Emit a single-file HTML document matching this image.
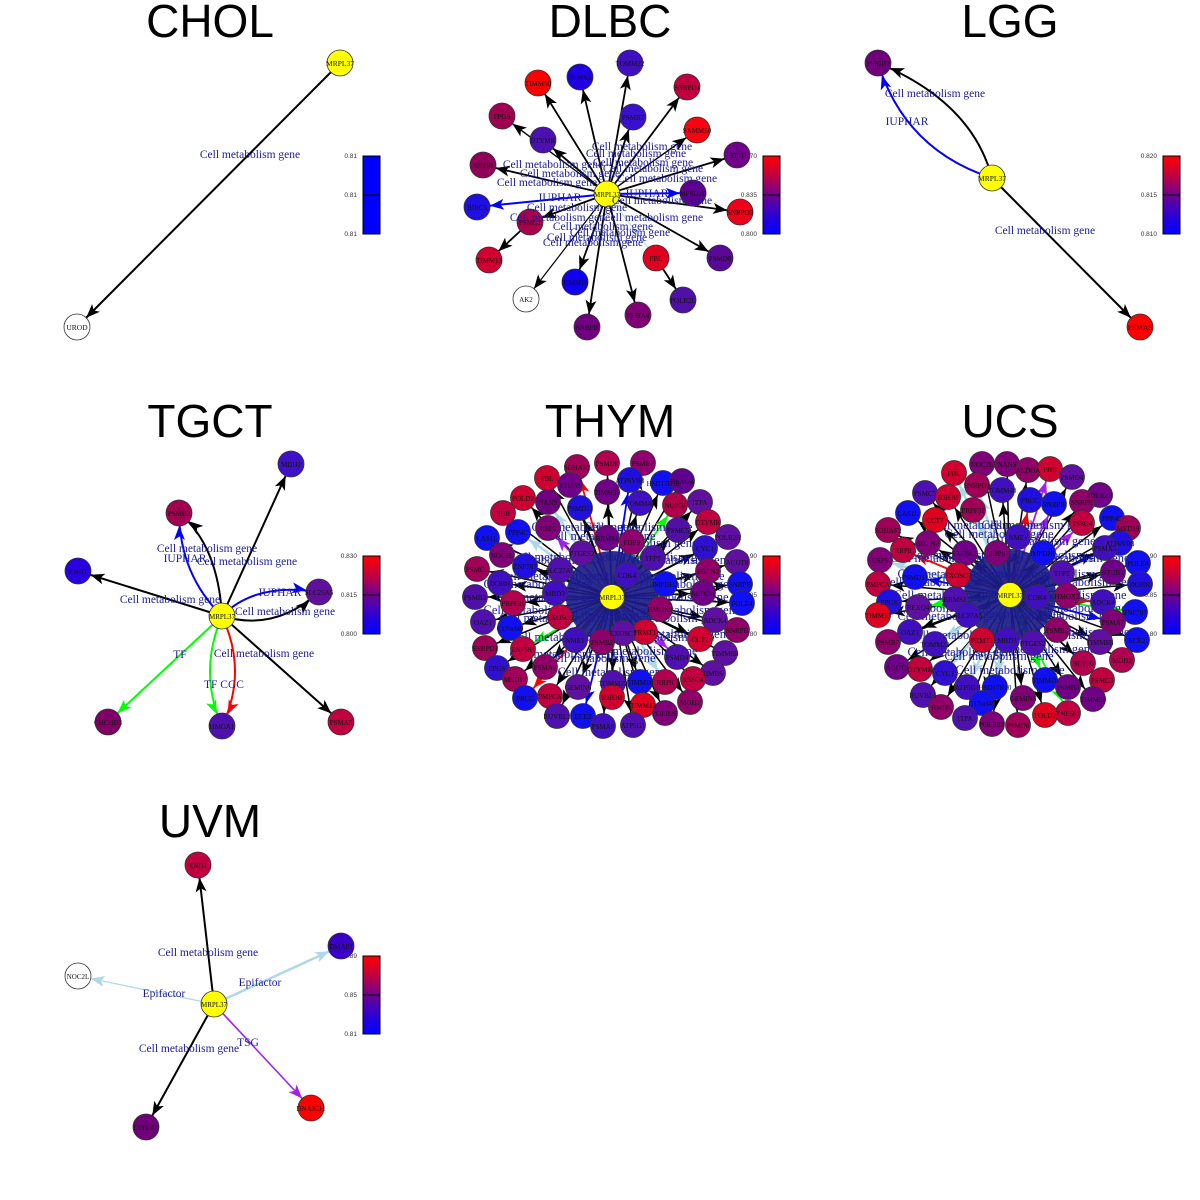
<!DOCTYPE html>
<html><head><meta charset="utf-8">
<style>
html,body{margin:0;padding:0;background:#fff;}
svg{display:block;}
.t{font-family:"Liberation Sans",sans-serif;font-size:46px;text-anchor:middle;fill:#000;}
.n text{font-family:"Liberation Serif",serif;font-size:7px;text-anchor:middle;fill:#111;}
.nb text{font-family:"Liberation Serif",serif;font-size:7.5px;text-anchor:middle;fill:#111;}
.e{font-family:"Liberation Serif",serif;font-size:11.5px;fill:#1c1c96;text-anchor:middle;}
.ed{font-family:"Liberation Serif",serif;font-size:12.5px;fill:#1c1c96;text-anchor:middle;}
.c{font-family:"Liberation Sans",sans-serif;font-size:6.5px;fill:#333;text-anchor:end;}
.cs circle{stroke:#333;stroke-width:0.8;}
</style></head><body>
<svg width="1200" height="1200" viewBox="0 0 1200 1200" xmlns="http://www.w3.org/2000/svg">
<defs>
<marker id="ak" viewBox="0 0 14 11" refX="27" refY="5.5" markerWidth="14" markerHeight="11" markerUnits="userSpaceOnUse" orient="auto" style="overflow:visible"><path d="M0,0L14,5.5L0,11L3.5,5.5Z" fill="#000"/></marker>
<marker id="ab" viewBox="0 0 14 11" refX="27" refY="5.5" markerWidth="14" markerHeight="11" markerUnits="userSpaceOnUse" orient="auto" style="overflow:visible"><path d="M0,0L14,5.5L0,11L3.5,5.5Z" fill="#0000ff"/></marker>
<marker id="ag" viewBox="0 0 14 11" refX="27" refY="5.5" markerWidth="14" markerHeight="11" markerUnits="userSpaceOnUse" orient="auto" style="overflow:visible"><path d="M0,0L14,5.5L0,11L3.5,5.5Z" fill="#00ff00"/></marker>
<marker id="ar" viewBox="0 0 14 11" refX="27" refY="5.5" markerWidth="14" markerHeight="11" markerUnits="userSpaceOnUse" orient="auto" style="overflow:visible"><path d="M0,0L14,5.5L0,11L3.5,5.5Z" fill="#ff0000"/></marker>
<marker id="al" viewBox="0 0 14 11" refX="27" refY="5.5" markerWidth="14" markerHeight="11" markerUnits="userSpaceOnUse" orient="auto" style="overflow:visible"><path d="M0,0L14,5.5L0,11L3.5,5.5Z" fill="#add8e6"/></marker>
<marker id="ap" viewBox="0 0 14 11" refX="27" refY="5.5" markerWidth="14" markerHeight="11" markerUnits="userSpaceOnUse" orient="auto" style="overflow:visible"><path d="M0,0L14,5.5L0,11L3.5,5.5Z" fill="#a020f0"/></marker>
<marker id="aw" viewBox="0 0 14 11" refX="27" refY="5.5" markerWidth="14" markerHeight="11" markerUnits="userSpaceOnUse" orient="auto" style="overflow:visible"><path d="M0,0L14,5.5L0,11L3.5,5.5Z" fill="#a52a2a"/></marker>
<linearGradient id="cg" x1="0" y1="0" x2="0" y2="1">
<stop offset="0" stop-color="#ff0000"/><stop offset="0.25" stop-color="#c00040"/><stop offset="0.5" stop-color="#700090"/><stop offset="0.75" stop-color="#3000d0"/><stop offset="1" stop-color="#0000ff"/>
</linearGradient>
</defs>

<!-- Titles -->
<text class="t" x="210" y="37">CHOL</text>
<text class="t" x="610" y="37">DLBC</text>
<text class="t" x="1010" y="37">LGG</text>
<text class="t" x="210" y="437">TGCT</text>
<text class="t" x="610" y="437">THYM</text>
<text class="t" x="1010" y="437">UCS</text>
<text class="t" x="210" y="837">UVM</text>

<!-- Colorbars -->
<g stroke="#000" stroke-width="1">
<rect x="363" y="156" width="17" height="78" fill="#0000ff"/><line x1="363" y1="195" x2="380" y2="195"/>
<rect x="763" y="156" width="17" height="78" fill="url(#cg)"/><line x1="763" y1="195" x2="780" y2="195"/>
<rect x="1163" y="156" width="17" height="78" fill="url(#cg)"/><line x1="1163" y1="195" x2="1180" y2="195"/>
<rect x="363" y="556" width="17" height="78" fill="url(#cg)"/><line x1="363" y1="595" x2="380" y2="595"/>
<rect x="763" y="556" width="17" height="78" fill="url(#cg)"/><line x1="763" y1="595" x2="780" y2="595"/>
<rect x="1163" y="556" width="17" height="78" fill="url(#cg)"/><line x1="1163" y1="595" x2="1180" y2="595"/>
<rect x="363" y="956" width="17" height="78" fill="url(#cg)"/><line x1="363" y1="995" x2="380" y2="995"/>
</g>
<g class="c">
<text x="357" y="158">0.81</text><text x="357" y="197">0.81</text><text x="357" y="236">0.81</text>
<text x="757" y="158">0.870</text><text x="757" y="197">0.835</text><text x="757" y="236">0.800</text>
<text x="1157" y="158">0.820</text><text x="1157" y="197">0.815</text><text x="1157" y="236">0.810</text>
<text x="357" y="558">0.830</text><text x="357" y="597">0.815</text><text x="357" y="636">0.800</text>
<text x="757" y="558">0.90</text><text x="757" y="597">0.85</text><text x="757" y="636">0.80</text>
<text x="1157" y="558">0.90</text><text x="1157" y="597">0.85</text><text x="1157" y="636">0.80</text>
<text x="357" y="958">0.89</text><text x="357" y="997">0.85</text><text x="357" y="1036">0.81</text>
</g>

<!-- ===== CHOL ===== -->
<path d="M340,63L77,327" stroke="#000" stroke-width="2" fill="none" marker-end="url(#ak)"/>
<g class="cs"><circle cx="340" cy="63" r="13" fill="#ffff00"/><circle cx="77" cy="327" r="13" fill="#fff"/></g>
<g class="nb"><text x="340" y="66">MRPL37</text><text x="77" y="330">UROD</text></g>
<text class="e" x="250" y="158">Cell metabolism gene</text>

<!-- ===== DLBC ===== -->
<g fill="none" stroke="#000" stroke-width="1.8" marker-end="url(#ak)">
<path d="M607,194L630,63"/><path d="M607,194L580,77"/><path d="M607,194L538,83"/><path d="M607,194L687,87"/>
<path d="M607,194L633,117"/><path d="M607,194L502,116" stroke-width="1.4"/><path d="M607,194L697,130" stroke-width="1.4"/><path d="M607,194L737,155"/>
<path d="M607,194L543,140"/><path d="M607,194L483,165"/><path d="M607,194L740,212"/><path d="M607,194L530,222"/>
<path d="M530,222L489,260"/><path d="M607,194L720,258"/><path d="M656,258L683,300"/><path d="M607,194L575,282"/>
<path d="M607,194L526,299" stroke-width="1.2"/><path d="M607,194L638,315"/><path d="M607,194L587,327"/>
</g>
<path d="M607,194L477,207" stroke="#0000ff" stroke-width="2" fill="none" marker-end="url(#ab)"/>
<path d="M607,194L693,193" stroke="#0000ff" stroke-width="2" fill="none" marker-end="url(#ab)"/>
<path d="M607,194L656,258" stroke="#add8e6" stroke-width="1" fill="none"/>
<g class="cs">
<circle cx="630" cy="63" r="13" fill="#4010c0"/><circle cx="580" cy="77" r="13" fill="#2000e0"/><circle cx="538" cy="83" r="13" fill="#ff0000"/>
<circle cx="687" cy="87" r="13" fill="#c0003f"/><circle cx="633" cy="117" r="13" fill="#3a10d0"/><circle cx="502" cy="116" r="13" fill="#a00050"/>
<circle cx="697" cy="130" r="13" fill="#ff0010"/><circle cx="737" cy="155" r="13" fill="#70008a"/><circle cx="543" cy="140" r="13" fill="#4a10b0"/>
<circle cx="483" cy="165" r="13" fill="#90005a"/><circle cx="477" cy="207" r="13" fill="#2010e0"/><circle cx="693" cy="193" r="13" fill="#60008f"/>
<circle cx="740" cy="212" r="13" fill="#f00018"/><circle cx="530" cy="222" r="13" fill="#a8004c"/><circle cx="489" cy="260" r="13" fill="#d00030"/>
<circle cx="720" cy="258" r="13" fill="#5a0898"/><circle cx="656" cy="258" r="13" fill="#e00020"/><circle cx="575" cy="282" r="13" fill="#1000f0"/>
<circle cx="683" cy="300" r="13" fill="#5010a8"/><circle cx="526" cy="299" r="13" fill="#fff"/><circle cx="638" cy="315" r="13" fill="#800075"/>
<circle cx="587" cy="327" r="13" fill="#700080"/><circle cx="607" cy="194" r="13" fill="#ffff00"/>
</g>
<g class="n">
<text x="630" y="66">TOMM22</text><text x="580" y="80">PSMA5</text><text x="538" y="86">TIMM50</text><text x="687" y="90">SNRPD1</text>
<text x="633" y="120">PSMB7</text><text x="502" y="119">FPGS</text><text x="697" y="133">SAMM50</text><text x="737" y="158">TPI1</text>
<text x="543" y="143">DTYMK</text><text x="483" y="168">IDH3B</text><text x="477" y="210">BIRC5</text><text x="693" y="196">MFSD2B</text>
<text x="740" y="215">SNRPD3</text><text x="530" y="225">PSMC1</text><text x="489" y="263">TIMM13</text><text x="720" y="261">PSMD8</text>
<text x="656" y="261">FBL</text><text x="575" y="285">TIMM10</text><text x="683" y="303">POLR2L</text><text x="526" y="302">AK2</text>
<text x="638" y="318">PSMA4</text><text x="587" y="330">SNRPB</text><text x="607" y="197">MRPL37</text>
</g>
<g class="e">
<text x="642" y="150">Cell metabolism gene</text><text x="636" y="157">Cell metabolism gene</text><text x="643" y="166">Cell metabolism gene</text>
<text x="553" y="168">Cell metabolism gene</text><text x="653" y="172">Cell metabolism gene</text><text x="570" y="177">Cell metabolism gene</text>
<text x="547" y="186">Cell metabolism gene</text><text x="667" y="182">Cell metabolism gene</text><text x="560" y="201">IUPHAR</text>
<text x="647" y="197">IUPHAR</text><text x="662" y="204">Cell metabolism gene</text><text x="577" y="211">Cell metabolism gene</text>
<text x="560" y="221">Cell metabolism gene</text><text x="653" y="221">Cell metabolism gene</text><text x="603" y="230">Cell metabolism gene</text>
<text x="620" y="236">Cell metabolism gene</text><text x="597" y="241">Cell metabolism gene</text><text x="593" y="246">Cell metabolism gene</text>
</g>

<!-- ===== LGG ===== -->
<path d="M992,178Q972,102 878,63" stroke="#000" stroke-width="2" fill="none" marker-end="url(#ak)"/>
<path d="M992,178Q905,150 878,63" stroke="#0000ff" stroke-width="2" fill="none" marker-end="url(#ab)"/>
<path d="M992,178L1140,327" stroke="#000" stroke-width="2" fill="none" marker-end="url(#ak)"/>
<g class="cs"><circle cx="878" cy="63" r="13" fill="#70007a"/><circle cx="1140" cy="327" r="13" fill="#ff0000"/><circle cx="992" cy="178" r="13" fill="#ffff00"/></g>
<g class="nb"><text x="878" y="66">PSMB2</text><text x="1140" y="330">PSMA5</text><text x="992" y="181">MRPL37</text></g>
<text class="e" x="935" y="97">Cell metabolism gene</text>
<text class="e" x="907" y="125">IUPHAR</text>
<text class="e" x="1045" y="234">Cell metabolism gene</text>

<!-- ===== TGCT ===== -->
<g fill="none" stroke-width="2">
<path d="M222,616L291,464" stroke="#000" marker-end="url(#ak)"/>
<path d="M222,616Q218,545 179,513" stroke="#000" marker-end="url(#ak)"/>
<path d="M222,616Q180,575 179,513" stroke="#0000ff" marker-end="url(#ab)"/>
<path d="M222,616L78,571" stroke="#000" marker-end="url(#ak)"/>
<path d="M222,616Q255,582 319,592" stroke="#0000ff" marker-end="url(#ab)"/>
<path d="M222,616Q275,632 319,592" stroke="#000" marker-end="url(#ak)"/>
<path d="M222,616L108,722" stroke="#00ff00" marker-end="url(#ag)"/>
<path d="M222,616Q198,672 222,726" stroke="#00ff00" marker-end="url(#ag)"/>
<path d="M222,616Q248,672 222,726" stroke="#ff0000" marker-end="url(#ar)"/>
<path d="M222,616L341,722" stroke="#000" marker-end="url(#ak)"/>
</g>
<g class="cs">
<circle cx="291" cy="464" r="13" fill="#4010c8"/><circle cx="179" cy="513" r="13" fill="#a00050"/><circle cx="78" cy="571" r="13" fill="#2a00e0"/>
<circle cx="319" cy="592" r="13" fill="#60109a"/><circle cx="108" cy="722" r="13" fill="#800068"/><circle cx="222" cy="726" r="13" fill="#5010b0"/>
<circle cx="341" cy="722" r="13" fill="#c00040"/><circle cx="222" cy="616" r="13" fill="#ffff00"/>
</g>
<g class="n">
<text x="291" y="467">MDH2</text><text x="179" y="516">PSMB2</text><text x="78" y="574">ENO1</text><text x="319" y="595">SLC25A5</text>
<text x="108" y="725">CHCHD3</text><text x="222" y="729">HMGA1</text><text x="341" y="725">PSMA5</text><text x="222" y="619">MRPL37</text>
</g>
<g class="e">
<text x="207" y="552">Cell metabolism gene</text><text x="185" y="562">IUPHAR</text><text x="247" y="565">Cell metabolism gene</text>
<text x="170" y="603">Cell metabolism gene</text><text x="280" y="596">IUPHAR</text><text x="285" y="615">Cell metabolism gene</text>
<text x="180" y="658">TF</text><text x="264" y="657">Cell metabolism gene</text><text x="224" y="688">TF CGC</text>
</g>

<!-- ===== UVM ===== -->
<path d="M214,1004L198,865" stroke="#000" stroke-width="2" fill="none" marker-end="url(#ak)"/>
<path d="M214,1004L341,946" stroke="#add8e6" stroke-width="2.5" fill="none" marker-end="url(#al)"/>
<path d="M214,1004L78,976" stroke="#add8e6" stroke-width="1.2" fill="none" marker-end="url(#al)"/>
<path d="M214,1004L146,1127" stroke="#000" stroke-width="2" fill="none" marker-end="url(#ak)"/>
<path d="M214,1004L311,1108" stroke="#a020f0" stroke-width="1.6" fill="none" marker-end="url(#ap)"/>
<g class="cs">
<circle cx="198" cy="865" r="13" fill="#c00040"/><circle cx="341" cy="946" r="13" fill="#3a00c8"/><circle cx="78" cy="976" r="13" fill="#fff"/>
<circle cx="146" cy="1127" r="13" fill="#700078"/><circle cx="311" cy="1108" r="13" fill="#ff0000"/><circle cx="214" cy="1004" r="13" fill="#ffff00"/>
</g>
<g class="n">
<text x="198" y="868">ENO1</text><text x="341" y="949">DMAP1</text><text x="78" y="979">NOC2L</text>
<text x="146" y="1130">LYPLA1</text><text x="311" y="1111">DNAJC11</text><text x="214" y="1007">MRPL37</text>
</g>
<g class="e">
<text x="208" y="956">Cell metabolism gene</text><text x="260" y="986">Epifactor</text><text x="164" y="997">Epifactor</text>
<text x="189" y="1052">Cell metabolism gene</text><text x="248" y="1046">TSG</text>
</g>

<!-- ===== THYM ===== -->
<g fill="none" stroke="#000" stroke-width="1.5" marker-end="url(#ak)">
<path d="M612,597L607,463"/><path d="M612,597L643,463"/><path d="M612,597L547,478"/><path d="M612,597L570,485"/>
<path d="M612,597L663,483"/><path d="M612,597L682,481"/><path d="M612,597L607,492"/><path d="M612,597L523,498"/>
<path d="M612,597L640,503"/><path d="M612,597L700,502"/><path d="M612,597L580,508"/><path d="M612,597L503,513"/>
<path d="M612,597L708,522"/><path d="M612,597L678,530"/><path d="M612,597L728,537"/><path d="M612,597L487,538"/>
<path d="M612,597L502,555"/><path d="M612,597L705,548"/><path d="M612,597L737,562"/><path d="M612,597L525,566"/>
<path d="M612,597L708,571"/><path d="M612,597L477,569"/><path d="M612,597L500,583"/><path d="M612,597L740,584"/>
<path d="M612,597L703,593"/><path d="M612,597L475,597"/><path d="M612,597L513,603"/><path d="M612,597L742,603"/>
<path d="M612,597L715,620"/><path d="M612,597L483,622"/><path d="M612,597L510,628"/><path d="M612,597L737,630"/>
<path d="M612,597L700,639"/><path d="M612,597L485,648"/><path d="M612,597L725,653"/><path d="M612,597L545,667"/>
<path d="M612,597L497,668"/><path d="M612,597L713,673"/><path d="M612,597L693,679"/><path d="M612,597L578,687"/>
<path d="M612,597L515,679"/><path d="M612,597L613,683"/><path d="M612,597L640,682"/><path d="M612,597L550,696"/>
<path d="M612,597L612,697"/><path d="M612,597L690,702"/><path d="M612,597L643,705"/><path d="M612,597L665,713"/>
<path d="M612,597L557,716"/><path d="M612,597L603,726"/><path d="M612,597L633,725"/>
</g>
<g fill="none" stroke-width="1.8">
<path d="M612,597L577,467" stroke="#ff0000" marker-end="url(#ar)"/>
<path d="M612,597L630,480" stroke="#0000ff" marker-end="url(#ab)"/>
<path d="M612,597L675,505" stroke="#00ff00" marker-end="url(#ag)"/>
<path d="M612,597L518,532" stroke="#add8e6" stroke-width="2.5" marker-end="url(#al)"/>
<path d="M612,597L548,502" stroke="#add8e6" stroke-width="2.5" marker-end="url(#al)"/>
<path d="M612,597L548,528" stroke="#a020f0" marker-end="url(#ap)"/>
<path d="M612,597L523,649" stroke="#00ff00" marker-end="url(#ag)"/>
<path d="M612,597L525,698" stroke="#ff0000" marker-end="url(#ar)"/>
<path d="M612,597L583,716" stroke="#0000ff" marker-end="url(#ab)"/>
<path d="M612,597L665,682" stroke="#add8e6" stroke-width="2.5" marker-end="url(#al)"/>
<path d="M612,597L677,657" stroke="#a020f0" marker-end="url(#ap)"/>
</g>
<circle cx="612" cy="597" r="46" fill="#1c1c88" opacity="0.92"/>
<g class="ed">
<text x="674" y="601">Cell metabolism gene</text><text x="670" y="622">Cell metabolism gene</text><text x="660" y="641">Cell metabolism gene</text>
<text x="643" y="655">Cell metabolism gene</text><text x="601" y="662">Cell metabolism gene</text><text x="565" y="641">Cell metabolism gene</text>
<text x="554" y="622">Cell metabolism gene</text><text x="550" y="601">Cell metabolism gene</text><text x="554" y="580">Cell metabolism gene</text>
<text x="565" y="561">Cell metabolism gene</text><text x="601" y="540">Cell metabolism gene</text><text x="643" y="547">Cell metabolism gene</text>
<text x="660" y="561">Cell metabolism gene</text><text x="670" y="580">Cell metabolism gene</text><text x="686" y="614">Cell metabolism gene</text>
<text x="677" y="638">Cell metabolism gene</text><text x="612" y="676">Cell metabolism gene</text><text x="564" y="658">Cell metabolism gene</text>
<text x="538" y="614">Cell metabolism gene</text><text x="538" y="588">Cell metabolism gene</text><text x="547" y="564">Cell metabolism gene</text>
<text x="586" y="531">Cell metabolism gene</text><text x="638" y="531">Cell metabolism gene</text><text x="677" y="564">Cell metabolism gene</text>
<text x="686" y="588">Cell metabolism gene</text><text x="612" y="620">Cell metabolism gene</text><text x="612" y="580">Cell metabolism gene</text>
</g>
<g class="cs">
<circle cx="607" cy="463" r="12.5" fill="#b0004f"/><circle cx="643" cy="463" r="12.5" fill="#900070"/><circle cx="577" cy="467" r="12.5" fill="#a00058"/>
<circle cx="547" cy="478" r="12.5" fill="#d00030"/><circle cx="570" cy="485" r="12.5" fill="#700088"/><circle cx="630" cy="480" r="12.5" fill="#2010e0"/>
<circle cx="663" cy="483" r="12.5" fill="#1010f0"/><circle cx="682" cy="481" r="12.5" fill="#600090"/><circle cx="607" cy="492" r="12.5" fill="#700088"/>
<circle cx="523" cy="498" r="12.5" fill="#d00030"/><circle cx="548" cy="502" r="12.5" fill="#70007f"/><circle cx="640" cy="503" r="12.5" fill="#4010c0"/>
<circle cx="675" cy="505" r="12.5" fill="#b00048"/><circle cx="700" cy="502" r="12.5" fill="#6010a0"/><circle cx="580" cy="508" r="12.5" fill="#2010e0"/>
<circle cx="503" cy="513" r="12.5" fill="#c00040"/><circle cx="548" cy="528" r="12.5" fill="#800078"/><circle cx="708" cy="522" r="12.5" fill="#c00040"/>
<circle cx="518" cy="532" r="12.5" fill="#1010f0"/><circle cx="678" cy="530" r="12.5" fill="#5010a8"/><circle cx="728" cy="537" r="12.5" fill="#6010a0"/>
<circle cx="607" cy="538" r="12.5" fill="#700088"/><circle cx="632" cy="542" r="12.5" fill="#900070"/><circle cx="487" cy="538" r="12.5" fill="#1010f0"/>
<circle cx="502" cy="555" r="12.5" fill="#800078"/><circle cx="582" cy="553" r="12.5" fill="#6010a0"/><circle cx="705" cy="548" r="12.5" fill="#3010d0"/>
<circle cx="737" cy="562" r="12.5" fill="#6010a0"/><circle cx="525" cy="566" r="12.5" fill="#2010e0"/><circle cx="653" cy="558" r="12.5" fill="#5010b0"/>
<circle cx="708" cy="571" r="12.5" fill="#900068"/><circle cx="477" cy="569" r="12.5" fill="#a00058"/><circle cx="560" cy="570" r="12.5" fill="#5010b0"/>
<circle cx="627" cy="575" r="12.5" fill="#4010c0"/><circle cx="500" cy="583" r="12.5" fill="#4010c0"/><circle cx="740" cy="584" r="12.5" fill="#1010f0"/>
<circle cx="665" cy="584" r="12.5" fill="#1010f0"/><circle cx="555" cy="593" r="12.5" fill="#4010c0"/><circle cx="703" cy="593" r="12.5" fill="#700088"/>
<circle cx="475" cy="597" r="12.5" fill="#5010a8"/><circle cx="513" cy="603" r="12.5" fill="#b0004f"/><circle cx="742" cy="603" r="12.5" fill="#1010f0"/>
<circle cx="660" cy="609" r="12.5" fill="#900068"/><circle cx="560" cy="617" r="12.5" fill="#c00040"/><circle cx="715" cy="620" r="12.5" fill="#6010a0"/>
<circle cx="483" cy="622" r="12.5" fill="#5010b0"/><circle cx="510" cy="628" r="12.5" fill="#1010f0"/><circle cx="737" cy="630" r="12.5" fill="#900068"/>
<circle cx="645" cy="632" r="12.5" fill="#d00030"/><circle cx="623" cy="633" r="12.5" fill="#6010a0"/><circle cx="700" cy="639" r="12.5" fill="#d00030"/>
<circle cx="575" cy="640" r="12.5" fill="#4010c0"/><circle cx="602" cy="642" r="12.5" fill="#900068"/><circle cx="485" cy="648" r="12.5" fill="#a00058"/>
<circle cx="523" cy="649" r="12.5" fill="#c00040"/><circle cx="725" cy="653" r="12.5" fill="#6010a0"/><circle cx="677" cy="657" r="12.5" fill="#5010b0"/>
<circle cx="545" cy="667" r="12.5" fill="#900068"/><circle cx="497" cy="668" r="12.5" fill="#3010d0"/><circle cx="713" cy="673" r="12.5" fill="#6010a0"/>
<circle cx="693" cy="679" r="12.5" fill="#c00040"/><circle cx="578" cy="687" r="12.5" fill="#6010a0"/><circle cx="515" cy="679" r="12.5" fill="#a00058"/>
<circle cx="613" cy="683" r="12.5" fill="#5010b0"/><circle cx="640" cy="682" r="12.5" fill="#1010f0"/><circle cx="665" cy="682" r="12.5" fill="#b0004f"/>
<circle cx="550" cy="696" r="12.5" fill="#c00040"/><circle cx="525" cy="698" r="12.5" fill="#1010f0"/><circle cx="612" cy="697" r="12.5" fill="#d00030"/>
<circle cx="690" cy="702" r="12.5" fill="#900068"/><circle cx="643" cy="705" r="12.5" fill="#e00020"/><circle cx="665" cy="713" r="12.5" fill="#800078"/>
<circle cx="583" cy="716" r="12.5" fill="#1010f0"/><circle cx="557" cy="716" r="12.5" fill="#5010b0"/><circle cx="603" cy="726" r="12.5" fill="#4010c0"/>
<circle cx="633" cy="725" r="12.5" fill="#5010b0"/><circle cx="612" cy="597" r="12.5" fill="#ffff00"/>
</g>
<g class="n">
<text x="607" y="466">PSMD8</text><text x="643" y="466">PSMB7</text><text x="577" y="470">SDHAF2</text><text x="547" y="481">FBL</text>
<text x="570" y="488">STUB1</text><text x="630" y="483">ATP6V0B</text><text x="663" y="486">HSD17B10</text><text x="682" y="484">REXO4</text>
<text x="607" y="495">TIMM50</text><text x="523" y="501">POLD2</text><text x="548" y="505">NANS</text><text x="640" y="506">TOMM40</text>
<text x="675" y="508">NOP56</text><text x="700" y="505">ITPA</text><text x="580" y="511">PSMD11</text><text x="503" y="516">PHB</text>
<text x="548" y="531">USP5</text><text x="708" y="525">DTYMK</text><text x="518" y="535">PPP4C</text><text x="678" y="533">PSMC5</text>
<text x="728" y="540">POLR2H</text><text x="607" y="541">BRMS1</text><text x="632" y="545">FDPS</text><text x="487" y="541">LAS1L</text>
<text x="502" y="558">NOC2L</text><text x="582" y="556">PTGES2</text><text x="705" y="551">CYC1</text><text x="737" y="565">ACOT8</text>
<text x="525" y="569">ZNF787</text><text x="653" y="561">TFPT</text><text x="708" y="574">EGLN2</text><text x="477" y="572">PSMC3</text>
<text x="560" y="573">SLC27A5</text><text x="627" y="578">CDK4</text><text x="500" y="586">DOHH</text><text x="740" y="587">SNRPB</text>
<text x="665" y="587">IMPDH2</text><text x="555" y="596">MBD3</text><text x="703" y="596">ALDOA</text><text x="475" y="600">PSMB3</text>
<text x="513" y="606">PRPF31</text><text x="742" y="606">POLE4</text><text x="660" y="612">HMOX2</text><text x="560" y="620">EXOSC5</text>
<text x="715" y="623">ADCK4</text><text x="483" y="625">OAZ1</text><text x="510" y="631">C17orf49</text><text x="737" y="633">SNRPE</text>
<text x="645" y="635">PRMT1</text><text x="623" y="636">EXOSC7</text><text x="700" y="642">CCT7</text><text x="575" y="643">NME1</text>
<text x="602" y="645">PSMB2</text><text x="485" y="651">SNRPD1</text><text x="523" y="652">ZNF581</text><text x="725" y="656">TIMM8B</text>
<text x="677" y="660">PSMD4</text><text x="545" y="670">PSMA7</text><text x="497" y="671">FPGS</text><text x="713" y="676">HMBS</text>
<text x="693" y="682">TSSC4</text><text x="578" y="690">GEMIN6</text><text x="515" y="682">MED19</text><text x="613" y="686">TOMM22</text>
<text x="640" y="685">TIMM10</text><text x="665" y="685">RRP8</text><text x="550" y="699">PMPCA</text><text x="525" y="701">PRCC</text>
<text x="612" y="700">IDH3B</text><text x="690" y="705">MDH2</text><text x="643" y="708">TIMM13</text><text x="665" y="716">POLR2E</text>
<text x="583" y="719">ECE2</text><text x="557" y="719">RUVBL1</text><text x="603" y="729">PSMA5</text><text x="633" y="728">ATP5G1</text>
<text x="612" y="600">MRPL37</text>
</g>

<!-- ===== UCS ===== -->
<g fill="none" stroke="#000" stroke-width="1.5" marker-end="url(#ak)">
<path d="M1010,595L982,464"/><path d="M1010,595L1007,464"/><path d="M1010,595L1028,470"/><path d="M1010,595L1072,477"/>
<path d="M1010,595L925,493"/><path d="M1010,595L1100,495"/><path d="M1010,595L948,497"/><path d="M1010,595L1002,490"/>
<path d="M1010,595L1082,502"/><path d="M1010,595L908,513"/><path d="M1010,595L1112,518"/><path d="M1010,595L935,520"/>
<path d="M1010,595L1128,528"/><path d="M1010,595L888,530"/><path d="M1010,595L1018,537"/><path d="M1010,595L928,543"/>
<path d="M1010,595L1105,548"/><path d="M1010,595L965,553"/><path d="M1010,595L997,553"/><path d="M1010,595L1043,553"/>
<path d="M1010,595L1138,563"/><path d="M1010,595L1062,573"/><path d="M1010,595L1113,572"/><path d="M1010,595L958,575"/>
<path d="M1010,595L878,584"/><path d="M1010,595L1140,584"/><path d="M1010,595L1067,596"/><path d="M1010,595L955,599"/>
<path d="M1010,595L889,602"/><path d="M1010,595L968,615"/><path d="M1010,595L878,615"/><path d="M1010,595L1057,630"/>
<path d="M1010,595L910,632"/><path d="M1010,595L1137,640"/><path d="M1010,595L1100,642"/><path d="M1010,595L1033,643"/>
<path d="M1010,595L888,642"/><path d="M1010,595L1122,660"/><path d="M1010,595L1083,663"/><path d="M1010,595L897,667"/>
<path d="M1010,595L920,669"/><path d="M1010,595L1102,680"/><path d="M1010,595L1068,687"/><path d="M1010,595L923,695"/>
<path d="M1010,595L1023,698"/><path d="M1010,595L1093,699"/><path d="M1010,595L982,703"/><path d="M1010,595L941,707"/>
<path d="M1010,595L1045,715"/><path d="M1010,595L965,718"/><path d="M1010,595L992,724"/><path d="M1010,595L1018,725"/>
</g>
<g fill="none" stroke-width="1.8">
<path d="M1010,595L977,485" stroke="#add8e6" stroke-width="2.5" marker-end="url(#al)"/>
<path d="M1010,595L973,510" stroke="#add8e6" stroke-width="2.5" marker-end="url(#al)"/>
<path d="M1010,595L954,473" stroke="#add8e6" stroke-width="2.5" marker-end="url(#al)"/>
<path d="M1010,595L880,560" stroke="#add8e6" stroke-width="2.5" marker-end="url(#al)"/>
<path d="M1010,595L945,673" stroke="#add8e6" stroke-width="2.5" marker-end="url(#al)"/>
<path d="M1010,595L995,687" stroke="#add8e6" stroke-width="2.5" marker-end="url(#al)"/>
<path d="M1010,595L967,687" stroke="#add8e6" stroke-width="2.5" marker-end="url(#al)"/>
<path d="M1010,595L935,644" stroke="#add8e6" stroke-width="2.5" marker-end="url(#al)"/>
<path d="M1010,595L1050,469" stroke="#a020f0" marker-end="url(#ap)"/>
<path d="M1010,595L1054,504" stroke="#a020f0" marker-end="url(#ap)"/>
<path d="M1010,595L1082,523" stroke="#a020f0" marker-end="url(#ap)"/>
<path d="M1010,595L1030,500" stroke="#ff0000" marker-end="url(#ar)"/>
<path d="M1010,595L903,550" stroke="#ff0000" marker-end="url(#ar)"/>
<path d="M1010,595L915,577" stroke="#0000ff" marker-end="url(#ab)"/>
<path d="M1010,595L1120,543" stroke="#0000ff" marker-end="url(#ab)"/>
<path d="M1010,595L1113,622" stroke="#0000ff" marker-end="url(#ab)"/>
<path d="M1010,595L1135,612" stroke="#00ff00" marker-end="url(#ag)"/>
<path d="M1010,595L918,607" stroke="#00ff00" marker-end="url(#ag)"/>
<path d="M1010,595L1045,680" stroke="#00ff00" marker-end="url(#ag)"/>
<path d="M1010,595L1068,713" stroke="#00ff00" marker-end="url(#ag)"/>
<path d="M1010,595L1103,602" stroke="#a52a2a" stroke-width="2.5" marker-end="url(#aw)"/>
</g>
<circle cx="1010" cy="595" r="46" fill="#1c1c88" opacity="0.92"/>
<g class="ed">
<text x="1072" y="599">Cell metabolism gene</text><text x="1068" y="620">Cell metabolism gene</text><text x="1058" y="639">Cell metabolism gene</text>
<text x="1041" y="653">Cell metabolism gene</text><text x="999" y="660">Cell metabolism gene</text><text x="963" y="639">Cell metabolism gene</text>
<text x="952" y="620">Cell metabolism gene</text><text x="948" y="599">Cell metabolism gene</text><text x="952" y="578">Cell metabolism gene</text>
<text x="963" y="559">Cell metabolism gene</text><text x="999" y="538">Cell metabolism gene</text><text x="1041" y="545">Cell metabolism gene</text>
<text x="1058" y="559">Cell metabolism gene</text><text x="1068" y="578">Cell metabolism gene</text><text x="1084" y="612">Cell metabolism gene</text>
<text x="1075" y="636">Cell metabolism gene</text><text x="1010" y="674">Cell metabolism gene</text><text x="962" y="656">Cell metabolism gene</text>
<text x="936" y="612">Cell metabolism gene</text><text x="936" y="586">Cell metabolism gene</text><text x="945" y="562">Cell metabolism gene</text>
<text x="984" y="529">Cell metabolism gene</text><text x="1036" y="529">Cell metabolism gene</text><text x="1075" y="562">Cell metabolism gene</text>
<text x="1084" y="586">Cell metabolism gene</text><text x="1010" y="618">Cell metabolism gene</text><text x="1010" y="578">Cell metabolism gene</text>
</g>
<g class="cs">
<circle cx="982" cy="464" r="12.5" fill="#800078"/><circle cx="1007" cy="464" r="12.5" fill="#800078"/><circle cx="1028" cy="470" r="12.5" fill="#900068"/>
<circle cx="1050" cy="469" r="12.5" fill="#d00030"/><circle cx="954" cy="473" r="12.5" fill="#d00030"/><circle cx="1072" cy="477" r="12.5" fill="#6010a0"/>
<circle cx="977" cy="485" r="12.5" fill="#a00058"/><circle cx="925" cy="493" r="12.5" fill="#5010b0"/><circle cx="1100" cy="495" r="12.5" fill="#700088"/>
<circle cx="948" cy="497" r="12.5" fill="#d00030"/><circle cx="1002" cy="490" r="12.5" fill="#4010c0"/><circle cx="1030" cy="500" r="12.5" fill="#2010e0"/>
<circle cx="1082" cy="502" r="12.5" fill="#900068"/><circle cx="1054" cy="504" r="12.5" fill="#1010f0"/><circle cx="973" cy="510" r="12.5" fill="#a00058"/>
<circle cx="908" cy="513" r="12.5" fill="#1010f0"/><circle cx="1112" cy="518" r="12.5" fill="#1010f0"/><circle cx="935" cy="520" r="12.5" fill="#e00020"/>
<circle cx="1082" cy="523" r="12.5" fill="#c00040"/><circle cx="1128" cy="528" r="12.5" fill="#a00058"/><circle cx="888" cy="530" r="12.5" fill="#a00058"/>
<circle cx="1018" cy="537" r="12.5" fill="#4010c0"/><circle cx="928" cy="543" r="12.5" fill="#800078"/><circle cx="1120" cy="543" r="12.5" fill="#2010e0"/>
<circle cx="1105" cy="548" r="12.5" fill="#4010c0"/><circle cx="903" cy="550" r="12.5" fill="#c00040"/><circle cx="965" cy="553" r="12.5" fill="#700088"/>
<circle cx="997" cy="553" r="12.5" fill="#800078"/><circle cx="1043" cy="553" r="12.5" fill="#1010f0"/><circle cx="880" cy="560" r="12.5" fill="#800078"/>
<circle cx="1138" cy="563" r="12.5" fill="#1010f0"/><circle cx="1062" cy="573" r="12.5" fill="#5010b0"/><circle cx="1113" cy="572" r="12.5" fill="#700088"/>
<circle cx="915" cy="577" r="12.5" fill="#1010f0"/><circle cx="958" cy="575" r="12.5" fill="#d00030"/><circle cx="878" cy="584" r="12.5" fill="#c00040"/>
<circle cx="1140" cy="584" r="12.5" fill="#2010e0"/><circle cx="1067" cy="596" r="12.5" fill="#900068"/><circle cx="1037" cy="597" r="12.5" fill="#4010c0"/>
<circle cx="955" cy="599" r="12.5" fill="#5010b0"/><circle cx="1103" cy="602" r="12.5" fill="#4010c0"/><circle cx="889" cy="602" r="12.5" fill="#2010e0"/>
<circle cx="918" cy="607" r="12.5" fill="#6010a0"/><circle cx="1135" cy="612" r="12.5" fill="#1010f0"/><circle cx="968" cy="615" r="12.5" fill="#4010c0"/>
<circle cx="878" cy="615" r="12.5" fill="#e00020"/><circle cx="1113" cy="622" r="12.5" fill="#800078"/><circle cx="1057" cy="630" r="12.5" fill="#900068"/>
<circle cx="910" cy="632" r="12.5" fill="#4010c0"/><circle cx="1137" cy="640" r="12.5" fill="#1010f0"/><circle cx="1100" cy="642" r="12.5" fill="#6010a0"/>
<circle cx="982" cy="640" r="12.5" fill="#d00030"/><circle cx="1007" cy="640" r="12.5" fill="#4010c0"/><circle cx="1033" cy="643" r="12.5" fill="#5010b0"/>
<circle cx="935" cy="644" r="12.5" fill="#4010c0"/><circle cx="888" cy="642" r="12.5" fill="#900068"/><circle cx="1122" cy="660" r="12.5" fill="#b0004f"/>
<circle cx="1083" cy="663" r="12.5" fill="#b0004f"/><circle cx="897" cy="667" r="12.5" fill="#700088"/><circle cx="920" cy="669" r="12.5" fill="#c00040"/>
<circle cx="945" cy="673" r="12.5" fill="#3010d0"/><circle cx="1102" cy="680" r="12.5" fill="#c00040"/><circle cx="1045" cy="680" r="12.5" fill="#1010f0"/>
<circle cx="1068" cy="687" r="12.5" fill="#700088"/><circle cx="967" cy="687" r="12.5" fill="#4010c0"/><circle cx="995" cy="687" r="12.5" fill="#1010f0"/>
<circle cx="923" cy="695" r="12.5" fill="#5010b0"/><circle cx="1023" cy="698" r="12.5" fill="#800078"/><circle cx="1093" cy="699" r="12.5" fill="#700088"/>
<circle cx="982" cy="703" r="12.5" fill="#1010f0"/><circle cx="941" cy="707" r="12.5" fill="#900068"/><circle cx="1068" cy="713" r="12.5" fill="#c00040"/>
<circle cx="1045" cy="715" r="12.5" fill="#e00020"/><circle cx="965" cy="718" r="12.5" fill="#5010b0"/><circle cx="992" cy="724" r="12.5" fill="#800078"/>
<circle cx="1018" cy="725" r="12.5" fill="#a00058"/><circle cx="1010" cy="595" r="12.5" fill="#ffff00"/>
</g>
<g class="n">
<text x="982" y="467">NOC2L</text><text x="1007" y="467">NANS</text><text x="1028" y="473">ALDOA</text><text x="1050" y="472">PHB</text>
<text x="954" y="476">FBL</text><text x="1072" y="480">PSMD4</text><text x="977" y="488">SNRPD1</text><text x="925" y="496">PSMC5</text>
<text x="1100" y="498">POLR2H</text><text x="948" y="500">IDH3B</text><text x="1002" y="493">TOMM40</text><text x="1030" y="503">PRCC</text>
<text x="1082" y="505">SNRPE</text><text x="1054" y="507">SNRPB</text><text x="973" y="513">PRPF31</text><text x="908" y="516">LAS1L</text>
<text x="1112" y="521">PPP4C</text><text x="935" y="523">CCT7</text><text x="1082" y="526">TSSC4</text><text x="1128" y="531">MED19</text>
<text x="888" y="533">SDHAF2</text><text x="1018" y="540">NME1</text><text x="928" y="546">EGLN2</text><text x="1120" y="546">ATP6V0B</text>
<text x="1105" y="551">PSMA5</text><text x="903" y="553">RRP8</text><text x="965" y="556">EXOSC5</text><text x="997" y="556">FDPS</text>
<text x="1043" y="556">IMPDH2</text><text x="880" y="563">USP5</text><text x="1138" y="566">POLE4</text><text x="1062" y="576">TFPT</text>
<text x="1113" y="575">STUB1</text><text x="915" y="580">PSMD11</text><text x="958" y="578">EXOSC7</text><text x="878" y="587">PMPCA</text>
<text x="1140" y="587">DOHH</text><text x="1067" y="599">HMOX2</text><text x="1037" y="600">CDK4</text><text x="955" y="602">BRMS1</text>
<text x="1103" y="605">ADCK4</text><text x="889" y="605">FPGS</text><text x="918" y="610">REXO4</text><text x="1135" y="615">ZNF787</text>
<text x="968" y="618">SLC27A5</text><text x="878" y="618">TIMM13</text><text x="1113" y="625">PSMA7</text><text x="1057" y="633">PSMB2</text>
<text x="910" y="635">OAZ1</text><text x="1137" y="643">ECE2</text><text x="1100" y="645">TIMM8B</text><text x="982" y="643">PRMT1</text>
<text x="1007" y="643">MBD3</text><text x="1033" y="646">PTGES2</text><text x="935" y="647">TOMM22</text><text x="888" y="645">PSMB7</text>
<text x="1122" y="663">MDH2</text><text x="1083" y="666">NOP56</text><text x="897" y="670">ACOT8</text><text x="920" y="672">DTYMK</text>
<text x="945" y="676">CYC1</text><text x="1102" y="683">PSMC3</text><text x="1045" y="683">TIMM10</text><text x="1068" y="690">PSMB3</text>
<text x="967" y="690">ATP5G1</text><text x="995" y="690">HSD17B10</text><text x="923" y="698">RUVBL1</text><text x="1023" y="701">GEMIN6</text>
<text x="1093" y="702">TIMM50</text><text x="982" y="706">C17orf49</text><text x="941" y="710">HMBS</text><text x="1068" y="716">ZNF581</text>
<text x="1045" y="718">POLD2</text><text x="965" y="721">ITPA</text><text x="992" y="727">POLR2E</text><text x="1018" y="728">PSMD8</text>
<text x="1010" y="598">MRPL37</text>
</g>
</svg>
</body></html>
